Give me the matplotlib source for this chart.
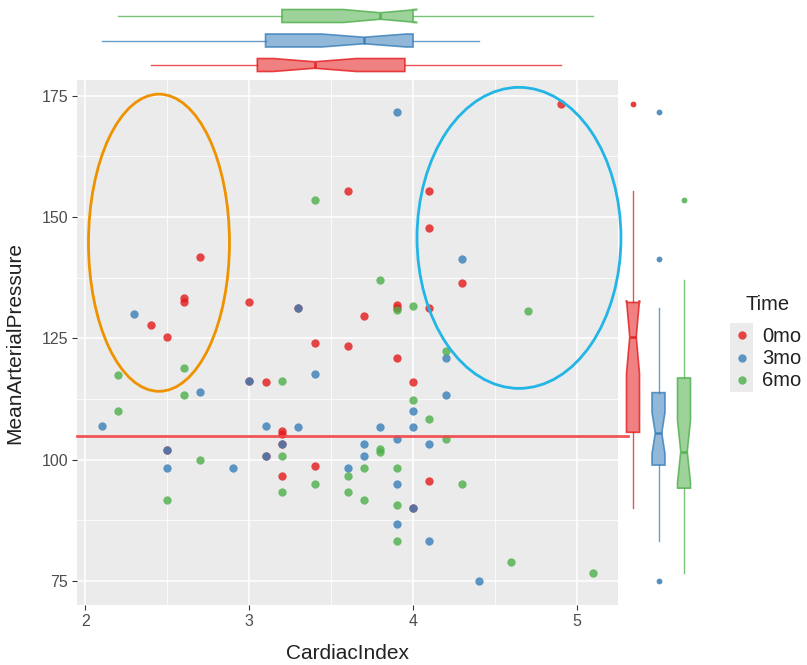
import matplotlib
matplotlib.use('Agg')
import matplotlib.pyplot as plt
from matplotlib.patches import Ellipse
import numpy as np

plt.rcParams['font.family'] = ['Liberation Sans', 'DejaVu Sans']

# ---------------- data ----------------
groups = ['0mo', '3mo', '6mo']
colors = ['#E41A1C', '#377EB8', '#4DAF4A']

red_x = [2.4, 2.5, 2.5, 2.6, 2.6, 2.7, 3.0, 3.0, 3.1, 3.1, 3.2, 3.2, 3.2, 3.2, 3.3, 3.4,
         3.4, 3.6, 3.6, 3.7, 3.9, 3.9, 3.9, 4.0, 4.0, 4.1, 4.1, 4.1, 4.1, 4.3, 4.9]
red_y = [127.7, 125.3, 102.0, 133.4, 132.4, 141.7, 132.4, 116.3, 116.0, 100.7, 106.0, 105.3,
         103.3, 96.7, 131.3, 124.0, 98.7, 155.3, 123.4, 129.6, 131.8, 131.3, 121.0, 116.0,
         90.0, 155.3, 147.7, 131.3, 95.7, 136.4, 173.3]

blue_x = [2.1, 2.3, 2.5, 2.5, 2.7, 2.9, 3.0, 3.1, 3.1, 3.2, 3.3, 3.3, 3.4, 3.6, 3.7, 3.7,
          3.8, 3.9, 3.9, 3.9, 3.9, 4.0, 4.0, 4.0, 4.1, 4.1, 4.2, 4.2, 4.3, 4.4]
blue_y = [107.0, 130.0, 102.0, 98.3, 114.0, 98.3, 116.3, 107.0, 100.7, 103.3, 131.3, 106.7,
          117.6, 98.3, 103.3, 100.7, 106.7, 171.7, 104.3, 95.0, 86.7, 110.0, 106.7, 90.0,
          103.3, 83.3, 121.0, 113.3, 141.3, 75.0]

green_x = [2.2, 2.2, 2.5, 2.6, 2.6, 2.7, 3.2, 3.2, 3.2, 3.4, 3.4, 3.6, 3.6, 3.7, 3.7, 3.8,
           3.8, 3.8, 3.9, 3.9, 3.9, 3.9, 4.0, 4.0, 4.1, 4.2, 4.2, 4.3, 4.6, 4.7, 5.1]
green_y = [117.4, 110.0, 91.7, 119.0, 113.3, 100.0, 116.3, 100.7, 93.3, 153.4, 95.0, 96.7,
           93.3, 98.3, 91.7, 137.0, 102.3, 101.7, 130.8, 98.3, 90.7, 83.3, 131.6, 112.3,
           108.3, 122.3, 104.3, 95.0, 79.0, 130.7, 76.7]

xs = [red_x, blue_x, green_x]
ys = [red_y, blue_y, green_y]

x_ticks = [2, 3, 4, 5]
y_ticks = [75, 100, 125, 150, 175]

# annotation shapes (data coords)
orange_center, orange_w, orange_h = (2.45, 144.7), 0.86, 61.2
blue_center, blue_w, blue_h = (4.646, 145.7), 1.244, 62.0
hline_y = 104.9

# ---------------- layout ----------------
W, H = 807, 665
fig = plt.figure(figsize=(W / 100, H / 100), dpi=100)
fig.patch.set_facecolor('white')

L, R, T, B = 77, 618, 80, 605
ax = fig.add_axes([L / W, 1 - B / H, (R - L) / W, (B - T) / H])
ax_top = fig.add_axes([L / W, 1 - T / H, (R - L) / W, T / H], sharex=ax)
ax_right = fig.add_axes([620 / W, 1 - B / H, 80 / W, (B - T) / H], sharey=ax)

# ---------------- main panel ----------------
ax.set_facecolor('#EBEBEB')
for s in ax.spines.values():
    s.set_visible(False)
ax.set_axisbelow(True)

for x, y, c in zip(xs, ys, colors):
    ax.scatter(x, y, s=36, color=c, alpha=0.8, linewidths=0, zorder=3)

allx = np.concatenate(xs)
ally = np.concatenate(ys)
xr = allx.max() - allx.min()
yr = ally.max() - ally.min()
xlim = (allx.min() - 0.05 * xr, allx.max() + 0.05 * xr)
ylim = (ally.min() - 0.05 * yr, ally.max() + 0.05 * yr)

ax.set_xticks(x_ticks)
ax.set_yticks(y_ticks)
ax.set_xticks([2.5, 3.5, 4.5], minor=True)
ax.set_yticks([87.5, 112.5, 137.5, 162.5], minor=True)
ax.grid(True, which='major', color='white', linewidth=1.1)
ax.grid(True, which='minor', color='white', linewidth=0.55)
ax.tick_params(which='major', length=3.5, width=0.8, color='#333333',
               labelsize=11.5, labelcolor='#4D4D4D', pad=3)
ax.tick_params(which='minor', length=0)
ax.set_xlabel('CardiacIndex', fontsize=15, color='#222222', labelpad=11)
ax.set_ylabel('MeanArterialPressure', fontsize=15, color='#222222', labelpad=12)

ax.add_patch(Ellipse(orange_center, orange_w, orange_h, fill=False,
                     edgecolor='#EE9200', linewidth=2.0, zorder=4, clip_on=False))
ax.add_patch(Ellipse(blue_center, blue_w, blue_h, fill=False,
                     edgecolor='#22B5E5', linewidth=2.0, zorder=4, clip_on=False))
ax.axhline(hline_y, xmin=0, xmax=(628 - L) / (R - L), color='#F04545',
           linewidth=2.0, alpha=0.9, clip_on=False, zorder=5)


def style_box(bp):
    for i, c in enumerate(colors):
        bp['boxes'][i].set_facecolor(matplotlib.colors.to_rgba(c, 0.55))
        bp['boxes'][i].set_edgecolor(matplotlib.colors.to_rgba(c, 0.8))
        bp['boxes'][i].set_linewidth(1.2)
        bp['medians'][i].set_color(matplotlib.colors.to_rgba(c, 0.9))
        bp['medians'][i].set_linewidth(1.8)
        for w in bp['whiskers'][2 * i:2 * i + 2]:
            w.set_color(matplotlib.colors.to_rgba(c, 0.75))
            w.set_linewidth(1.0)
        f = bp['fliers'][i]
        f.set_marker('o')
        f.set_markerfacecolor(c)
        f.set_markeredgecolor('none')
        f.set_alpha(0.85)
        f.set_markersize(4.2)


# ---------------- top marginal ----------------
bp_top = ax_top.boxplot(xs, positions=[1, 2, 3], orientation='horizontal', widths=0.53,
                        notch=True, patch_artist=True, showcaps=False, whis=1.5)
style_box(bp_top)
ax_top.set_ylim(0.388, 3.653)
ax_top.axis('off')

# ---------------- right marginal ----------------
bp_r = ax_right.boxplot(ys, positions=[1, 2, 3], orientation='vertical', widths=0.51,
                        notch=True, patch_artist=True, showcaps=False, whis=1.5)
style_box(bp_r)
ax_right.set_xlim(0.49, 3.627)
ax_right.axis('off')

# restore main limits (sharex / sharey)
ax.set_xlim(*xlim)
ax.set_ylim(*ylim)

# ---------------- legend ----------------
lg = fig.add_axes([730 / W, 1 - 392 / H, 23 / W, 69 / H])
lg.set_facecolor('#EBEBEB')
for s in lg.spines.values():
    s.set_visible(False)
lg.set_xticks([])
lg.set_yticks([])
lg.set_xlim(0, 1)
lg.set_ylim(392, 323)
key_y = [335, 357.5, 380]
for c, ky, g in zip(colors, key_y, groups):
    lg.scatter([0.5], [ky], s=36, color=c, alpha=0.8, linewidths=0)
    fig.text(762 / W, 1 - (ky + 1) / H, g, fontsize=14.5, color='#222222', va='center', ha='left')
fig.text(745 / W, 1 - 305 / H, 'Time', fontsize=14.5, color='#222222', va='center', ha='left')

fig.savefig('out.png', dpi=100, facecolor='white')
